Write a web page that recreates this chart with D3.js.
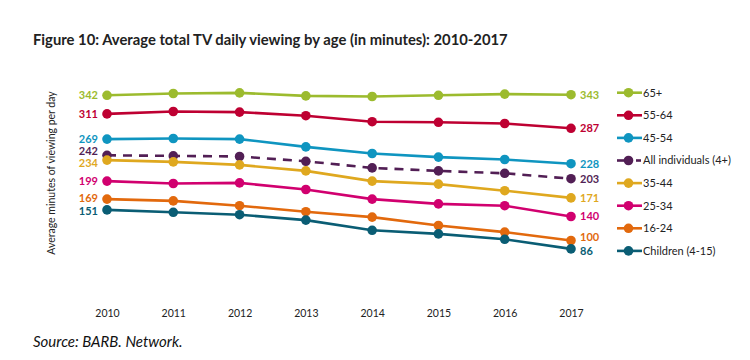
<!DOCTYPE html>
<html><head><meta charset="utf-8">
<script src="https://cdn.jsdelivr.net/npm/d3@7/dist/d3.min.js"></script>
<style>body{margin:0;background:#fff}svg{display:block}</style>
</head><body>
<svg id="c" width="750" height="360"></svg>
<script>
const years = [2010, 2011, 2012, 2013, 2014, 2015, 2016, 2017];
const seriesNames = ["65+", "55-64", "45-54", "All individuals (4+)", "35-44", "25-34", "16-24", "Children (4-15)"];
const v65 = [342, 345, 346, 341, 340, 342, 344, 343];
const v55 = [311, 315, 314, 308, 298, 297, 295, 287];
const v45 = [269, 270, 269, 256, 245, 239, 235, 228];
const vAll = [242, 241, 240, 232, 221, 216, 212, 203];
const v35 = [234, 231, 226, 216, 199, 194, 183, 171];
const v25 = [199, 195, 196, 185, 169, 161, 158, 140];
const v16 = [169, 166, 158, 148, 139, 125, 114, 100];
const vKids = [151, 147, 143, 134, 117, 111, 102, 86];
const seriesValues = [v65, v55, v45, vAll, v35, v25, v16, vKids];
const colors = ["#9cbb2e", "#be0032", "#0f95c0", "#521f55", "#dfa81f", "#d1006f", "#e2690d", "#0a5d74"];
const dashed = [false, false, false, true, false, false, false, false];
// small vertical nudges (px) of end labels to avoid collisions
const leftNudge = [0, 0, 0, -4, 3, 0, -1, 1];
const rightNudge = [0, 0, 0, 0, 0, 0, -3, 2];

const svg = d3.select("#c");
const font = "Lato, 'Open Sans', sans-serif";

const x = d3.scalePoint().domain(years).range([107, 571]);
const y = d3.scaleLinear().domain([0, 400]).range([300.5, 60.5]);

svg.append("text").attr("x", 33).attr("y", 45)
  .attr("font-family", font).attr("font-weight", "bold").attr("font-size", 14.8)
  .attr("fill", "#222").text("Figure 10: Average total TV daily viewing by age (in minutes): 2010-2017");

svg.append("text").attr("transform", "translate(55,173) rotate(-90)")
  .attr("text-anchor", "middle").attr("font-family", font).attr("font-size", 10.5)
  .attr("fill", "#222").text("Average minutes of viewing per day");

const xAxis = svg.append("g").attr("transform", "translate(0,305)")
  .call(d3.axisBottom(x).tickSize(0).tickFormat(d3.format("d")));
xAxis.select(".domain").remove();
xAxis.selectAll("text").attr("font-family", font).attr("font-size", 10.5).attr("fill", "#222").attr("dy", "0.9em");

svg.append("text").attr("x", 33).attr("y", 347)
  .attr("font-family", font).attr("font-style", "italic").attr("font-size", 15)
  .attr("fill", "#111").text("Source: BARB. Network.");

const line = d3.line().x((d, i) => x(years[i])).y(d => y(d));

seriesValues.forEach((vals, k) => {
  const g = svg.append("g");
  g.append("path").attr("d", line(vals)).attr("fill", "none")
    .attr("stroke", colors[k]).attr("stroke-width", 2.6)
    .attr("stroke-dasharray", dashed[k] ? "9,7" : null);
  g.selectAll("circle").data(vals).join("circle")
    .attr("cx", (d, i) => x(years[i])).attr("cy", d => y(d)).attr("r", 4.8)
    .attr("fill", colors[k]);
  g.append("text").attr("x", x(years[0]) - 9).attr("y", y(vals[0]) + leftNudge[k]).attr("dy", "0.35em")
    .attr("text-anchor", "end").attr("font-family", font).attr("font-weight", "bold")
    .attr("font-size", 11).attr("fill", colors[k]).text(vals[0]);
  g.append("text").attr("x", x(years[years.length - 1]) + 9).attr("y", y(vals[vals.length - 1]) + rightNudge[k]).attr("dy", "0.35em")
    .attr("text-anchor", "start").attr("font-family", font).attr("font-weight", "bold")
    .attr("font-size", 11).attr("fill", colors[k]).text(vals[vals.length - 1]);
});

const leg = svg.append("g");
seriesNames.forEach((name, k) => {
  const ly = 92.7 + k * 22.6;
  leg.append("line").attr("x1", 617).attr("x2", dashed[k] ? 633 : 642).attr("y1", ly).attr("y2", ly)
    .attr("stroke", colors[k]).attr("stroke-width", 2.6);
  if (dashed[k]) leg.append("line").attr("x1", 636).attr("x2", 641).attr("y1", ly).attr("y2", ly)
    .attr("stroke", colors[k]).attr("stroke-width", 2.6);
  leg.append("circle").attr("cx", 628.5).attr("cy", ly).attr("r", 4.8).attr("fill", colors[k]);
  leg.append("text").attr("x", 643).attr("y", ly).attr("dy", "0.35em")
    .attr("font-family", font).attr("font-size", 11).attr("fill", "#222").text(name);
});
</script>
</body></html>
